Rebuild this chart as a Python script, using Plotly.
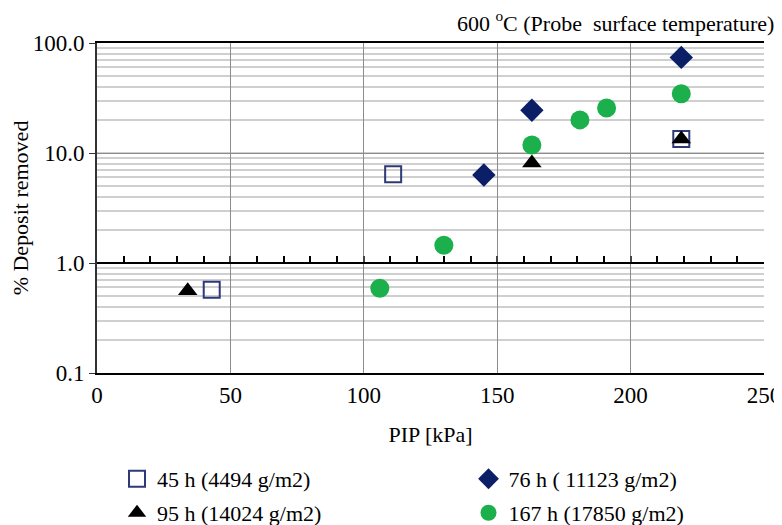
import plotly.graph_objects as go

# PIP [kPa] and % deposit removed
pip_45h = [43, 111, 219]
dep_45h = [0.57, 6.4, 13.4]

pip_76h = [145, 163, 219]
dep_76h = [6.3, 24.5, 74]

pip_95h = [34, 163, 219]
dep_95h = [0.56, 8.1, 13.4]

pip_167h = [106, 130, 163, 181, 191, 219]
dep_167h = [0.59, 1.45, 11.8, 20, 25.6, 34.5]

names = ['45 h (4494 g/m2)', '76 h ( 11123 g/m2)', '95 h (14024 g/m2)', '167 h (17850 g/m2)']

ytick_vals = [0.1, 1, 10, 100]
ytick_text = ['0.1', '1.0', '10.0', '100.0']

FONT = 'Liberation Serif'

fig = go.Figure()

fig.add_trace(go.Scatter(x=pip_45h, y=dep_45h, mode='markers', name=names[0], legend='legend',
                         marker=dict(symbol='square-open', size=16, color='#2e3a78', line=dict(width=2))))
fig.add_trace(go.Scatter(x=pip_76h, y=dep_76h, mode='markers', name=names[1], legend='legend2',
                         marker=dict(symbol='diamond', size=18, color='#0a1f66')))
fig.add_trace(go.Scatter(x=pip_95h, y=dep_95h, mode='markers', name=names[2], legend='legend3',
                         marker=dict(symbol='triangle-up', size=17, color='black')))
fig.add_trace(go.Scatter(x=pip_167h, y=dep_167h, mode='markers', name=names[3], legend='legend4',
                         marker=dict(symbol='circle', size=19, color='#1bb04c')))

# axis line crossing at 1.0 with minor ticks (excel style)
fig.add_trace(go.Scatter(x=[None], y=[None], xaxis='x2', showlegend=False, hoverinfo='skip'))


def leg(x, y):
    return dict(orientation='h', x=x, xanchor='left', y=y, yanchor='middle',
                font=dict(family=FONT, size=22), itemwidth=30, bgcolor='rgba(0,0,0,0)')


# page body adds ~8px offset; figure runs a bit past the window on the right
fig.update_layout(
    width=782, height=517,
    margin=dict(l=89, r=26, t=35, b=152, autoexpand=False),
    plot_bgcolor='white', paper_bgcolor='white',
    font=dict(family=FONT, size=22, color='black'),
    title=dict(text='600 <sup>o</sup>C (Probe  surface temperature)', x=0.777, xanchor='center',
               y=0.971, yanchor='middle', font=dict(family=FONT, size=22), automargin=False),
    xaxis=dict(range=[0, 250], dtick=50, showgrid=True, gridcolor='#8c8c8c', gridwidth=1,
               showline=True, linecolor='black', linewidth=2, mirror=True,
               ticks='', zeroline=False, automargin=False, tickfont=dict(size=23),
               title=dict(text='PIP [kPa]', font=dict(size=22), standoff=20)),
    xaxis2=dict(overlaying='x', matches='x', range=[0, 250], anchor='free', position=1/3,
                showline=True, linecolor='black', linewidth=2, showgrid=False,
                showticklabels=False, ticks='inside', ticklen=6, tickwidth=1.5, dtick=50,
                minor=dict(ticks='inside', ticklen=6, tickwidth=1.5, dtick=10, tickcolor='black')),
    yaxis=dict(type='log', range=[-1, 2], tickvals=ytick_vals, ticktext=ytick_text,
               showgrid=True, gridcolor='#8c8c8c', gridwidth=1,
               showline=True, linecolor='#333333', linewidth=2, mirror=False,
               ticks='outside', ticklen=6, tickcolor='#333333', automargin=False,
               tickfont=dict(size=23),
               minor=dict(dtick='D1', showgrid=True, gridcolor='#cfcfcf', gridwidth=1.5),
               title=dict(text='% Deposit removed', font=dict(size=22), standoff=6)),
    legend=leg(0.03, -0.321),
    legend2=leg(0.557, -0.321),
    legend3=leg(0.03, -0.424),
    legend4=leg(0.557, -0.424),
)

fig.write_html("out.html")
